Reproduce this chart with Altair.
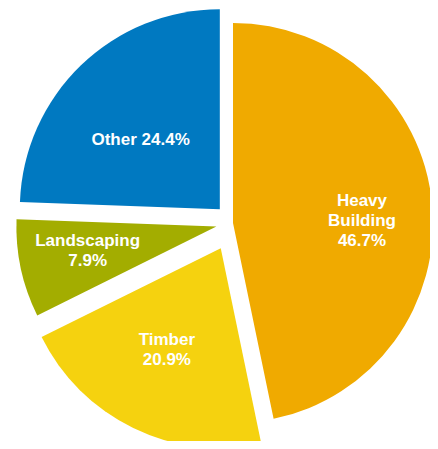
import altair as alt
import pandas as pd

# ---- data ----
categories = ["Heavy Building", "Timber", "Landscaping", "Other"]
shares = [46.7, 20.9, 7.9, 24.4]
labels = [["Heavy", "Building", "46.7%"], ["Timber", "20.9%"], ["Landscaping", "7.9%"], ["Other 24.4%"]]

# ---- styles ----
colors = ["#F0AA00", "#F5D20F", "#A3AD00", "#0079C1"]
explode_px = [0, 28, 17, 19]          # how far each slice is pulled out
label_radius = [129, 115, 131, 105]   # label distance from slice apex
label_turn = [5, 2, 1.5, -5]          # small angular nudge of label (deg)
CX, CY, R = 225, 215, 200
LINE_H = 20

df = pd.DataFrame({
    "order": list(range(len(categories))),
    "category": categories,
    "share": shares,
    "lines": labels,
    "explode": explode_px,
    "lr": label_radius,
    "turn": label_turn,
})

base = (
    alt.Chart(df)
    .transform_joinaggregate(total="sum(share)")
    .transform_window(cum="sum(share)", sort=[alt.SortField("order")])
    .transform_calculate(t0="2*PI*(datum.cum - datum.share)/datum.total")
    .transform_calculate(t1="2*PI*datum.cum/datum.total")
    .transform_calculate(mid="(datum.t0 + datum.t1)/2")
    .transform_calculate(cx=f"{CX} + datum.explode*sin(datum.mid)")
    .transform_calculate(cy=f"{CY} - datum.explode*cos(datum.mid)")
    .transform_calculate(la="datum.mid + datum.turn*PI/180")
    .transform_calculate(lx="datum.cx + datum.lr*sin(datum.la)")
    .transform_calculate(ly=f"datum.cy - datum.lr*cos(datum.la) - (length(datum.lines) - 1)*{LINE_H}/2")
)

arcs = base.mark_arc(outerRadius=R).encode(
    theta=alt.Theta("t0:Q", scale=None, stack=None),
    theta2="t1:Q",
    x=alt.X("cx:Q", scale=None, stack=None),
    y=alt.Y("cy:Q", scale=None, stack=None),
    color=alt.Color("category:N", scale=alt.Scale(domain=categories, range=colors), legend=None),
)

text = base.mark_text(
    font="Liberation Sans", fontWeight="bold", fontSize=17, color="white",
    lineHeight=LINE_H, align="center", baseline="middle",
).encode(
    x=alt.X("lx:Q", scale=None, stack=None),
    y=alt.Y("ly:Q", scale=None, stack=None),
    text=alt.Text("lines"),
)

chart = (
    alt.layer(arcs, text)
    .properties(width=422, height=433, autosize=alt.AutoSizeParams(type="none"), padding=0)
    .configure_view(stroke=None)
)

chart.save("out.html", embed_options={"renderer": "svg", "actions": False})
